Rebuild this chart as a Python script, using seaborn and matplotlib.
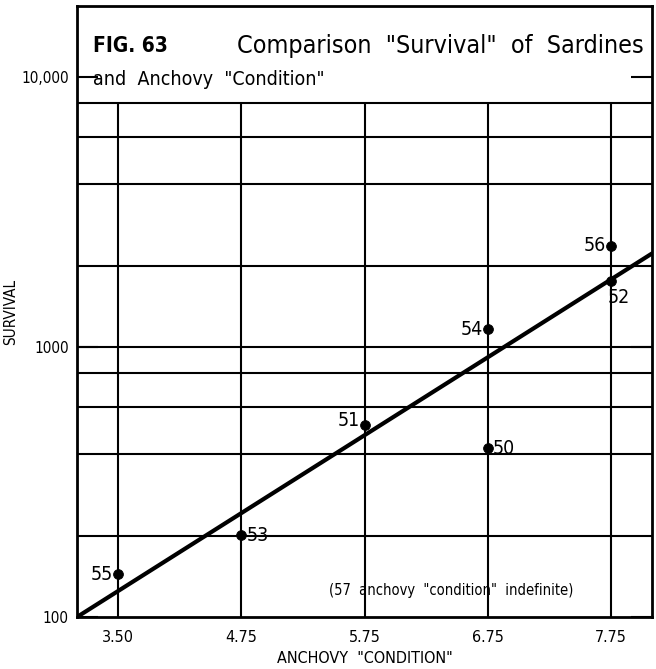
import numpy as np
import pandas as pd
import seaborn as sns
import matplotlib
matplotlib.use("Agg")
import matplotlib.pyplot as plt

# anchovy condition categories (equally spaced on the original chart)
conditions = ['3.50', '4.75', '5.75', '6.75', '7.75']

# year-classes: condition category and sardine survival
years = ['55', '53', '51', '50', '54', '56', '52']
year_condition = ['3.50', '4.75', '5.75', '6.75', '6.75', '7.75', '7.75']
survival = [144, 201, 514, 422, 1165, 2370, 1755]

# hand-drawn trend line, read at the two frame edges
trend_pos = [-1 / 3, 4 + 1 / 3]
trend_survival = [100, 2220]

grid_y = [200, 400, 600, 800, 1000, 2000, 4000, 6000, 8000]

# label placement: (dx, dy in pixels, ha, va)
label_pos = {
    '55': (-5, 0, 'right', 'center'),
    '53': (5, 0, 'left', 'center'),
    '51': (-5, 5, 'right', 'center'),
    '50': (5, 0, 'left', 'center'),
    '54': (-5, 0, 'right', 'center'),
    '56': (-5, 0, 'right', 'center'),
    '52': (-3, -7, 'left', 'top'),
}

sns.set_style("white")
plt.rcParams['font.family'] = ['DejaVu Sans']
plt.rcParams['font.stretch'] = 'condensed'
plt.rcParams['text.color'] = 'black'
plt.rcParams['axes.labelcolor'] = 'black'
plt.rcParams['xtick.color'] = 'black'
plt.rcParams['ytick.color'] = 'black'

df = pd.DataFrame({'year': years, 'condition': year_condition, 'survival': survival})
df['pos'] = df['condition'].map({c: i for i, c in enumerate(conditions)})

fig = plt.figure(figsize=(6.56, 6.69), dpi=100)
ax = fig.add_axes([77 / 656, 1 - 617 / 669, 575 / 656, 611 / 669])
ax.set_yscale('log')
ax.set_xlim(-1 / 3, 4 + 1 / 3)
ax.set_ylim(100, 10 ** (2 + 611 / 270))

# grid: horizontals across, verticals stop under the title box
for v in grid_y:
    ax.axhline(v, color='black', lw=1.5, zorder=1)
ax.vlines(range(len(conditions)), 100, 8000, color='black', lw=1.5, zorder=1)

sns.lineplot(x=trend_pos, y=trend_survival, color='black', lw=3, ax=ax, zorder=3)
sns.scatterplot(data=df, x='pos', y='survival', color='black', s=50,
                edgecolor='black', ax=ax, zorder=4)

for _, r in df.iterrows():
    dx, dy, ha, va = label_pos[r['year']]
    ax.annotate(r['year'], (r['pos'], r['survival']), xytext=(dx, dy),
                textcoords='offset pixels', ha=ha, va=va, fontsize=14)

ax.set_xticks(range(len(conditions)), conditions)
ax.set_yticks([100, 1000, 10000], ['100', '1000', '10,000'])
ax.minorticks_off()
ax.tick_params(axis='x', length=0, labelsize=11.5, pad=9)
ax.tick_params(axis='y', direction='in', length=15, width=1.5,
               left=True, right=True, labelsize=11, pad=6)
for s in ax.spines.values():
    s.set_linewidth(2)
    s.set_color('black')

ax.set_xlabel('ANCHOVY  "CONDITION"', fontsize=11.5, labelpad=5)
ax.set_ylabel('SURVIVAL', fontsize=11, labelpad=2)

ax.text(0.027, 0.935, 'FIG. 63', transform=ax.transAxes, fontsize=15,
        fontweight='bold', va='center')
ax.text(0.985, 0.935, 'Comparison  "Survival"  of  Sardines',
        transform=ax.transAxes, fontsize=18, ha='right', va='center')
ax.text(0.027, 0.88, 'and  Anchovy  "Condition"', transform=ax.transAxes,
        fontsize=14, va='center')
ax.text(2.7, 10 ** (2 + 27 / 270), '(57  anchovy  "condition"  indefinite)',
        fontsize=10.5, ha='center', va='center')

plt.savefig('out.png', dpi=100)
